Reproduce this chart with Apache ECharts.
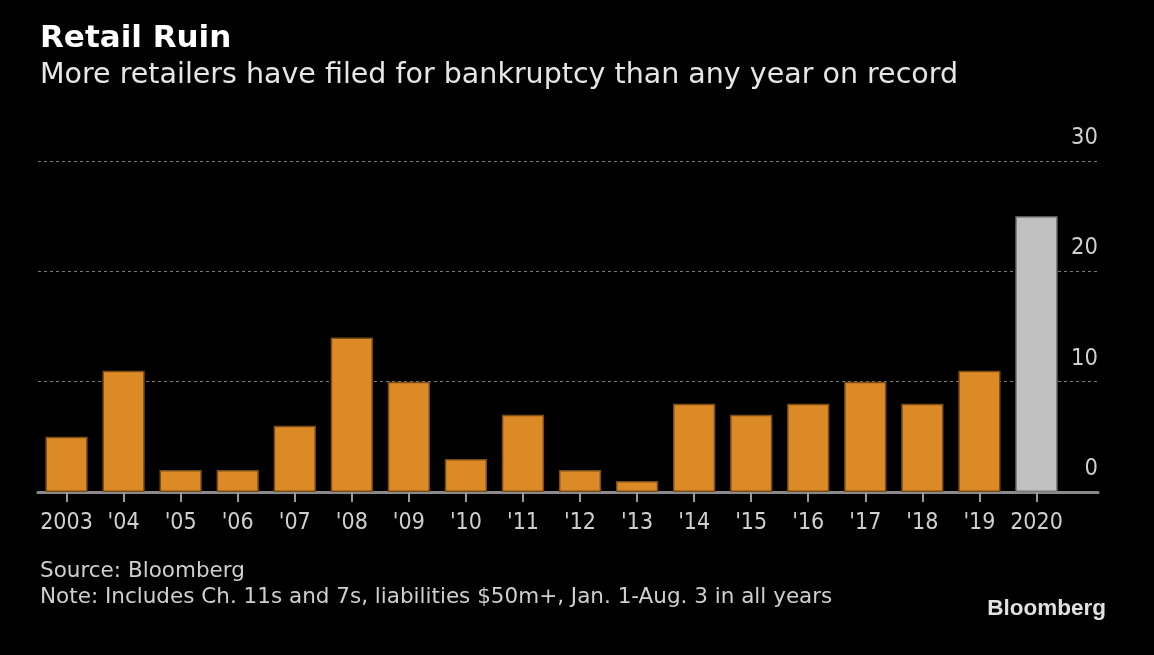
<!DOCTYPE html>
<html>
<head>
<meta charset="utf-8">
<title>Retail Ruin</title>
<script src="https://cdn.jsdelivr.net/npm/echarts@6/dist/echarts.min.js"></script>
<style>
  html, body { margin: 0; padding: 0; background: #000; }
  #chart { width: 1154px; height: 655px; }
</style>
</head>
<body>
<div id="chart"></div>
<script>
// bankruptcy filings by retailers, Jan. 1 - Aug. 3 of each year
const years = ['2003', "'04", "'05", "'06", "'07", "'08", "'09", "'10", "'11", "'12", "'13", "'14", "'15", "'16", "'17", "'18", "'19", '2020'];
const filings = [5, 11, 2, 2, 6, 14, 10, 3, 7, 2, 1, 8, 7, 8, 10, 8, 11, 25];
const yTicks = [0, 10, 20, 30];

const font = '"DejaVu Sans", sans-serif';
const axisFont = '"DejaVu Sans Condensed", "DejaVu Sans", sans-serif';
const orange = '#db8a26';
const grey = '#c0c0c0';

const chart = echarts.init(document.getElementById('chart'));

// last bar (current year) is drawn grey
const barData = filings.map((v, i) => {
    if (i === filings.length - 1) {
        return { value: v, itemStyle: { color: grey, borderColor: '#7a7a7a' } };
    }
    return v;
});

chart.setOption({
    backgroundColor: '#000',
    animation: false,
    title: [{
        text: 'Retail Ruin',
        left: 35, top: 18,
        textStyle: { color: '#fff', fontFamily: font, fontWeight: 'bold', fontSize: 31 }
    }, {
        text: 'More retailers have filed for bankruptcy than any year on record',
        left: 35, top: 56,
        textStyle: { color: '#e6e6e6', fontFamily: font, fontWeight: 'normal', fontSize: 28.5 }
    }, {
        text: 'Source: Bloomberg\nNote: Includes Ch. 11s and 7s, liabilities $50m+, Jan. 1-Aug. 3 in all years',
        left: 35, top: 553,
        textStyle: { color: '#cfcfcf', fontFamily: font, fontWeight: 'normal', fontSize: 21.5, lineHeight: 26 }
    }, {
        text: 'Bloomberg',
        right: 43, top: 592,
        textStyle: { color: '#e0e0e0', fontFamily: 'Liberation Sans, Arial, sans-serif', fontWeight: 'bold', fontSize: 22.5 }
    }],
    grid: [
        // outer grid: gridlines and value labels, reaches further right
        { left: 38, right: 56, top: 161, height: 331 },
        // bar grid
        { left: 38, width: 1027, top: 161, height: 331 }
    ],
    xAxis: [{
        gridIndex: 0,
        type: 'value',
        min: 0, max: 1,
        axisLine: { show: true, onZero: false, lineStyle: { color: '#8a8a8a', width: 3 } },
        axisTick: { show: false },
        axisLabel: { show: false },
        splitLine: { show: false }
    }, {
        gridIndex: 1,
        type: 'category',
        data: years,
        axisLine: { show: false },
        axisTick: { show: true, alignWithLabel: true, length: 10, lineStyle: { color: '#9a9a9a', width: 2 } },
        axisLabel: { color: '#d0d0d0', fontFamily: axisFont, fontSize: 23, margin: 20, interval: 0 }
    }],
    yAxis: [{
        gridIndex: 0,
        type: 'value',
        position: 'right',
        min: yTicks[0], max: yTicks[yTicks.length - 1], interval: 10,
        axisLine: { show: false },
        axisTick: { show: false },
        axisLabel: {
            inside: true, margin: 0, color: '#cfcfcf', fontFamily: axisFont, fontSize: 23.5,
            verticalAlign: 'bottom', padding: [0, 0, 11, 0],
            formatter: v => yTicks.indexOf(v) >= 0 ? String(v) : ''
        },
        splitLine: { show: true, lineStyle: { color: '#7a7a7a', type: [3, 3], width: 1 } }
    }, {
        gridIndex: 1,
        type: 'value',
        min: 0, max: 30,
        show: false,
        splitLine: { show: false }
    }],
    series: [{
        type: 'bar',
        xAxisIndex: 1,
        yAxisIndex: 1,
        data: barData,
        barCategoryGap: '26%',
        itemStyle: { color: orange, borderColor: '#7c4e16', borderWidth: 1.5 },
        z: 1
    }]
});
</script>
</body>
</html>
